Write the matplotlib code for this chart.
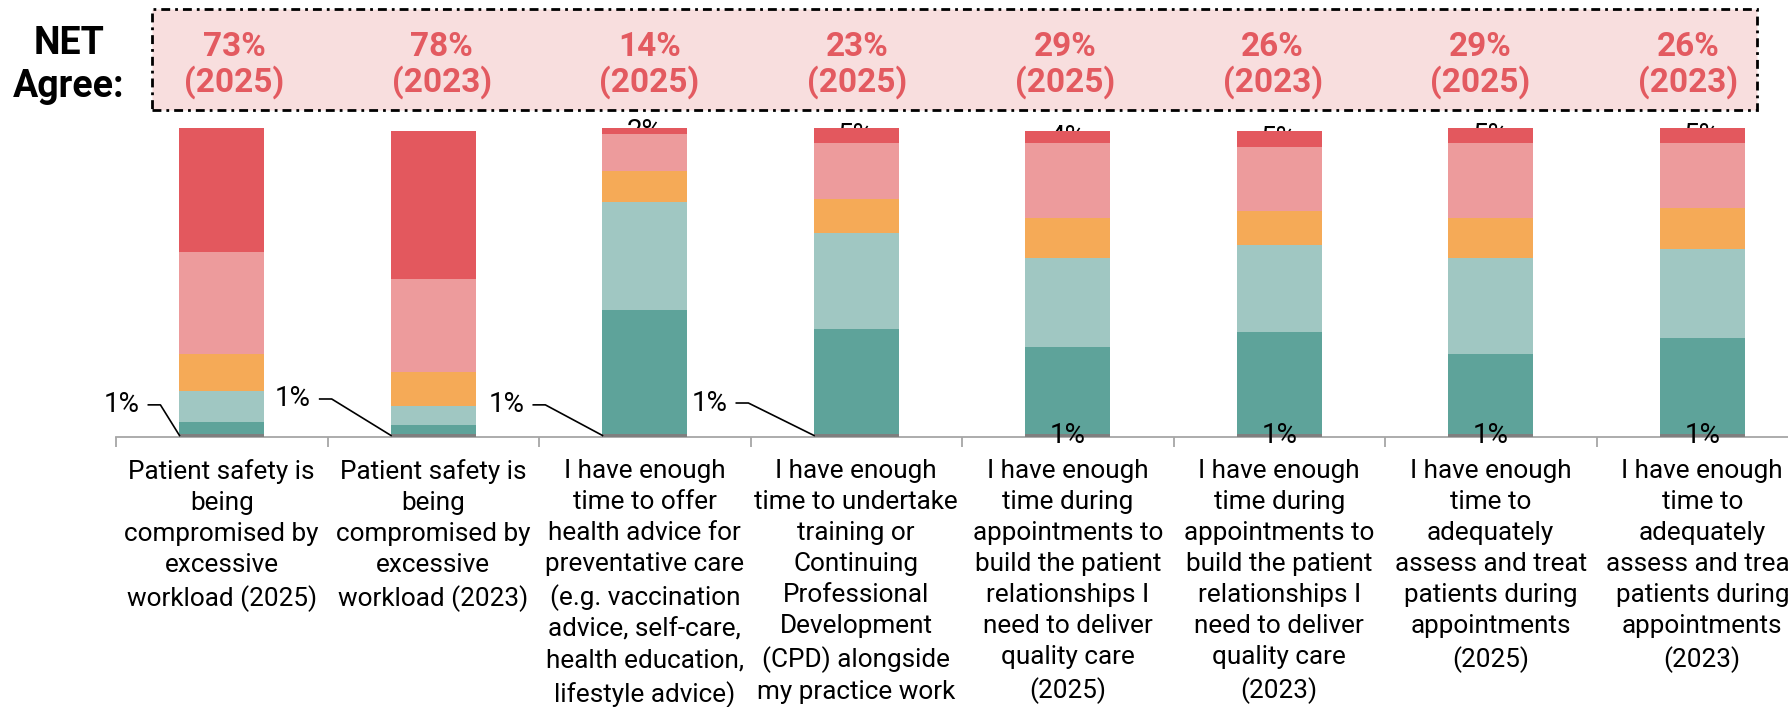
import matplotlib
matplotlib.use("Agg")
import matplotlib.pyplot as plt
from matplotlib.patches import Rectangle
import numpy as np

plt.rcParams['font.family'] = ['Roboto', 'DejaVu Sans']

categories = [
    "Patient safety is\nbeing\ncompromised by\nexcessive\nworkload (2025)",
    "Patient safety is\nbeing\ncompromised by\nexcessive\nworkload (2023)",
    "I have enough\ntime to offer\nhealth advice for\npreventative care\n(e.g. vaccination\nadvice, self-care,\nhealth education,\nlifestyle advice)",
    "I have enough\ntime to undertake\ntraining or\nContinuing\nProfessional\nDevelopment\n(CPD) alongside\nmy practice work",
    "I have enough\ntime during\nappointments to\nbuild the patient\nrelationships I\nneed to deliver\nquality care\n(2025)",
    "I have enough\ntime during\nappointments to\nbuild the patient\nrelationships I\nneed to deliver\nquality care\n(2023)",
    "I have enough\ntime to\nadequately\nassess and treat\npatients during\nappointments\n(2025)",
    "I have enough\ntime to\nadequately\nassess and treat\npatients during\nappointments\n(2023)",
]
years = ['2025', '2023', '2025', '2025', '2025', '2023', '2025', '2023']
net_agree = [73, 78, 14, 23, 29, 26, 29, 26]

# stacked from the bottom up (%)
dont_know = [1, 1, 1, 1, 1, 1, 1, 1]
strongly_disagree = [4, 3, 40, 34, 28, 33, 26, 31]
disagree = [10, 6, 35, 31, 29, 28, 31, 29]
neither = [12, 11, 10, 11, 13, 11, 13, 13]
agree = [33, 30, 12, 18, 24, 21, 24, 21]
strongly_agree = [40, 48, 2, 5, 4, 5, 5, 5]

colors = ['#7f7f7f', '#5ea39a', '#a0c7c2', '#f5aa57', '#ed9b9c', '#e3585e']
net_red = '#e35a60'

W, H = 1788, 707
fig = plt.figure(figsize=(W / 100, H / 100), dpi=100)
ax = fig.add_axes([116 / W, 1 - 437 / H, 1692 / W, 309 / H])

x = np.arange(len(categories))
bw = 0.40
bottom = np.zeros(len(x))
for vals, c in zip([dont_know, strongly_disagree, disagree, neither, agree, strongly_agree], colors):
    ax.bar(x, vals, bw, bottom=bottom, color=c, zorder=3)
    bottom += np.array(vals)

ax.set_xlim(-0.5, 7.5)
ax.set_ylim(0, 100)

# small "strongly agree" labels sit behind the bar tops
for i, v in enumerate(strongly_agree):
    if v < 10:
        ax.text(i, bottom[i] - v / 2, f"{v}%", ha='center', va='center', fontsize=20, zorder=1)

# "1%" labels at the base
callout = {0: (0.19, 10.4), 1: (0.38, 12.3), 2: (0.37, 10.4), 3: (0.41, 11.0)}
for i, v in enumerate(dont_know):
    if i in callout:
        ax.text(i, v / 2, f"{v}%", ha='center', va='center', fontsize=20, zorder=1, clip_on=True)
        gap, yc = callout[i]
        left = i - bw / 2
        tx = left - gap
        ax.text(tx, yc, f"{v}%", ha='right', va='center', fontsize=20)
        ax.plot([tx + 0.043, tx + 0.10, left], [yc, yc, v / 2], color='black', lw=1.2,
                clip_on=False, zorder=4)
    else:
        ax.text(i, v / 2, f"{v}%", ha='center', va='center', fontsize=20, zorder=5)

for s in ['top', 'right', 'left']:
    ax.spines[s].set_visible(False)
ax.spines['bottom'].set_color('#a6a6a6')
ax.spines['bottom'].set_linewidth(1.3)
ax.set_yticks([])
ax.set_xticks(x)
ax.set_xticklabels(categories, fontsize=18.8, ha='center', linespacing=1.37)
ax.set_xticks(np.arange(-0.5, 8, 1), minor=True)
ax.tick_params(axis='x', which='major', length=0, pad=16)
ax.tick_params(axis='x', which='minor', length=7, width=1.3, color='#a6a6a6')

# NET agree banner
box = Rectangle((152 / W, 1 - 110 / H), (1757 - 152) / W, (110 - 9) / H,
                transform=fig.transFigure, facecolor='#f8dede', edgecolor='black',
                linewidth=2, linestyle=(0, (3.2, 1.8, 1, 1.8)), zorder=-1)
fig.patches.append(box)
fig.text(69 / W, 1 - 65 / H, "NET\nAgree:", ha='center', va='center', fontsize=27,
         fontweight='bold', color='black')
net_x = np.linspace(234 / W, 1688 / W, len(net_agree))
for nx, v, yr in zip(net_x, net_agree, years):
    fig.text(nx, 1 - 65 / H, f"{v}%\n({yr})", ha='center', va='center',
             fontsize=24, fontweight='bold', color=net_red, linespacing=1.05)

fig.savefig('out.png', dpi=100)
